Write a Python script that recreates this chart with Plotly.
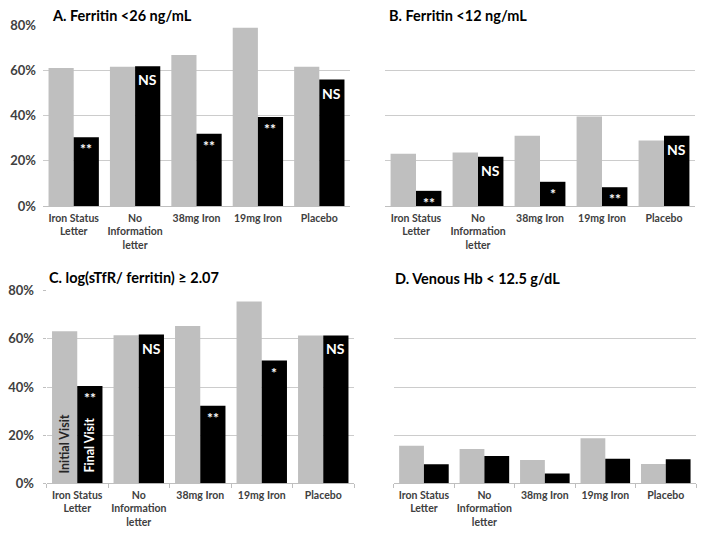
import plotly.graph_objects as go

categories = ["Iron Status<br>Letter", "No<br>Information<br>letter", "38mg Iron", "19mg Iron", "Placebo"]

A_initial = [0.61, 0.616, 0.667, 0.788, 0.615]
A_final = [0.304, 0.618, 0.319, 0.393, 0.559]
A_sig = ["**", "NS", "**", "**", "NS"]

B_initial = [0.231, 0.237, 0.311, 0.396, 0.289]
B_final = [0.067, 0.218, 0.107, 0.083, 0.311]
B_sig = ["**", "NS", "*", "**", "NS"]

C_initial = [0.632, 0.615, 0.653, 0.755, 0.614]
C_final = [0.404, 0.618, 0.322, 0.51, 0.614]
C_sig = ["**", "NS", "**", "*", "NS"]

D_initial = [0.156, 0.142, 0.097, 0.187, 0.08]
D_final = [0.079, 0.113, 0.041, 0.102, 0.10]

titles = ["A. Ferritin &lt;26 ng/mL", "B. Ferritin &lt;12 ng/mL",
          "C. log(sTfR/ ferritin) \u2265 2.07", "D. Venous Hb &lt; 12.5 g/dL"]
yticks = [0, 0.2, 0.4, 0.6, 0.8]

W, H = 704, 539
FONT = "Lato"
GRAY = "#BFBFBF"
TXT = "#404040"

def px(x):
    return x / W

def py(y):
    return 1 - y / H

panels = [
    dict(x0=43, x1=350, ytop=25, ybot=206, init=A_initial, fin=A_final, sig=A_sig,
         ylabels=True, ticks=False, tx=50, ty=15),
    dict(x0=385, x1=695, ytop=25, ybot=206, init=B_initial, fin=B_final, sig=B_sig,
         ylabels=False, ticks=False, tx=387, ty=15),
    dict(x0=46.5, x1=354, ytop=290.7, ybot=483.3, init=C_initial, fin=C_final, sig=C_sig,
         ylabels=True, ticks=True, tx=47, ty=277),
    dict(x0=393.7, x1=696, ytop=290.7, ybot=483.3, init=D_initial, fin=D_final, sig=None,
         ylabels=False, ticks=True, tx=393, ty=278),
]

fig = go.Figure()
layout = dict(
    width=W, height=H, margin=dict(l=0, r=0, t=0, b=0),
    paper_bgcolor="white", plot_bgcolor="white",
    showlegend=False, barmode="group", bargap=0.18, bargroupgap=0,
    font=dict(family=FONT, color=TXT),
)
annotations = []
shapes = []

for i, p in enumerate(panels):
    n = "" if i == 0 else str(i + 1)
    xa, ya = "x" + n, "y" + n
    fig.add_trace(go.Bar(x=categories, y=p["init"], marker=dict(color=GRAY, line=dict(width=0)),
                         xaxis=xa, yaxis=ya, name="Initial Visit", hoverinfo="skip"))
    fig.add_trace(go.Bar(x=categories, y=p["fin"], marker=dict(color="#000000", line=dict(width=0)),
                         xaxis=xa, yaxis=ya, name="Final Visit", hoverinfo="skip"))
    layout["xaxis" + n] = dict(
        domain=[px(p["x0"]), px(p["x1"])], anchor=ya, type="category",
        showgrid=False, showline=False, zeroline=False,
        ticks="outside" if p["ticks"] else "", tickson="boundaries", ticklen=4,
        tickcolor=GRAY, tickwidth=1, tickangle=0, automargin=False,
        tickfont=dict(family=FONT, size=10.5, color=TXT, weight="bold"),
        ticklabelstandoff=4, fixedrange=True,
    )
    layout["yaxis" + n] = dict(
        domain=[py(p["ybot"]), py(p["ytop"])], anchor=xa,
        range=[0, 0.8], tickvals=yticks, tickformat=".0%",
        showticklabels=p["ylabels"], showgrid=True, gridcolor="#CCCCCC", gridwidth=1,
        zeroline=True, zerolinecolor=GRAY, zerolinewidth=1, showline=False,
        ticks="outside" if (p["ticks"] and p["ylabels"]) else "", ticklen=3, tickcolor=GRAY,
        tickfont=dict(family=FONT, size=13, color=TXT, weight="bold"),
        ticklabelstandoff=6, fixedrange=True, automargin=False,
    )
    annotations.append(dict(
        text="<b>" + titles[i] + "</b>", xref="paper", yref="paper",
        x=px(p["tx"]), y=py(p["ty"]), xanchor="left", yanchor="middle",
        showarrow=False, font=dict(family=FONT, size=14.5, color="#000000"),
    ))
    if p["sig"]:
        for c, v, s in zip(categories, p["fin"], p["sig"]):
            annotations.append(dict(
                text="<b>" + s + "</b>", x=c, y=v, xref=xa, yref=ya,
                xanchor="center", yanchor="top", xshift=12.5, yshift=-3 if s == "NS" else -1,
                showarrow=False,
                font=dict(family=FONT, size=14, color="white"),
            ))

# Panel A has no gridline at 80%
shapes.append(dict(type="line", xref="x domain", yref="y", x0=0, x1=1, y0=0.8, y1=0.8,
                   line=dict(color="white", width=2), layer="below"))

# Legend labels inside panel C bars
annotations.append(dict(text="<b>Initial Visit</b>", x=categories[0], y=0, xref="x3", yref="y3",
                        textangle=-90, xanchor="center", yanchor="bottom", xshift=-12.5, yshift=8,
                        showarrow=False,
                        font=dict(family=FONT, size=12.5, color="#262626", weight="bold")))
annotations.append(dict(text="<b>Final Visit</b>", x=categories[0], y=0, xref="x3", yref="y3",
                        textangle=-90, xanchor="center", yanchor="bottom", xshift=12.5, yshift=9,
                        showarrow=False,
                        font=dict(family=FONT, size=12.5, color="white", weight="bold")))

layout["annotations"] = annotations
layout["shapes"] = shapes
fig.update_layout(**layout)
fig.write_html("out.html", config={"displayModeBar": False},
               post_script="document.body.style.margin='0';document.body.style.padding='0';")
